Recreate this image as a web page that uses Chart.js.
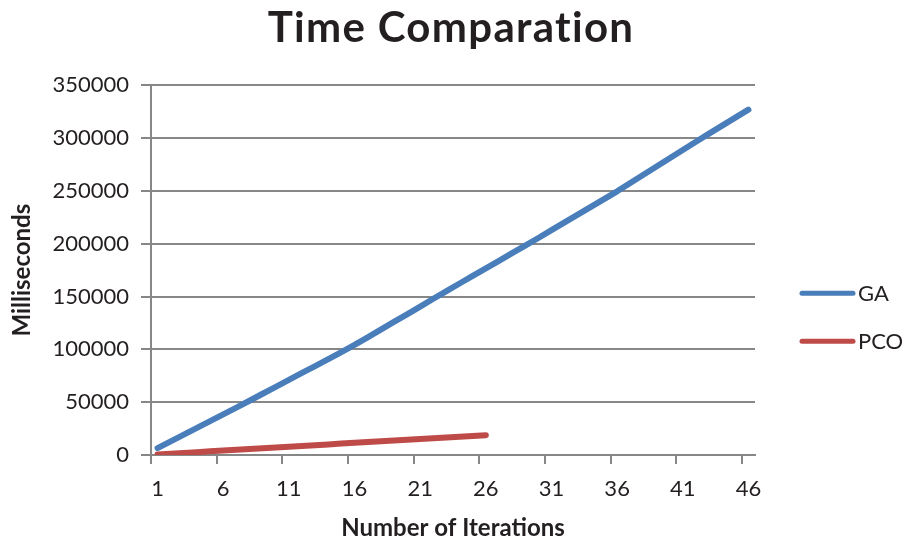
<!DOCTYPE html>
<html>
<head>
<meta charset="utf-8">
<script src="https://cdn.jsdelivr.net/npm/chart.js@4"></script>
<style>
  html, body { margin: 0; padding: 0; background: #ffffff; }
  #wrap { width: 908px; height: 546px; position: relative; }
</style>
</head>
<body>
<div id="wrap"><canvas id="chart"></canvas></div>
<script>
// Iteration numbers on the x axis
const iterations = [
  '1','2','3','4','5','6','7','8','9','10',
  '11','12','13','14','15','16','17','18','19','20',
  '21','22','23','24','25','26','27','28','29','30',
  '31','32','33','34','35','36','37','38','39','40',
  '41','42','43','44','45','46'
];

// Run time of the genetic algorithm, ms
const gaTimes = [
  6500, 12900, 19300, 25700, 32100, 38500, 44900, 51400, 58000, 64500,
  71100, 77700, 84200, 90800, 97400, 104200, 111400, 118700, 126000, 133200,
  140500, 148000, 155200, 162400, 169600, 176700, 183900, 191100, 198200, 205500,
  212900, 220300, 227600, 235000, 242300, 249700, 257600, 265400, 273200, 281000,
  288800, 296600, 304300, 311900, 319500, 327000
];

// Run time of PCO, ms (measured for the first 26 iterations)
const pcoTimes = [
  500, 1250, 1980, 2700, 3450, 4180, 4900, 5650, 6380, 7100,
  7850, 8580, 9300, 10050, 10780, 11500, 12250, 12980, 13700, 14450,
  15180, 15900, 16650, 17380, 18100, 18800
];

// Y axis ticks
const yTicks = [0, 50000, 100000, 150000, 200000, 250000, 300000, 350000];

const FONT = 'Lato, "Open Sans", "DejaVu Sans", sans-serif';
const TEXT = '#231f20';
const AXIS = '#878787';
const GA_COLOR = '#4a7ebb';
const PCO_COLOR = '#be4b48';

// Slightly looser tracking for the chart title (also keeps "ti" from joining)
const titleTracking = {
  id: 'titleTracking',
  afterInit(chart) {
    const block = chart.titleBlock;
    if (!block) return;
    const draw = block.draw.bind(block);
    block.draw = function () {
      const ctx = chart.ctx;
      ctx.save();
      ctx.letterSpacing = '1.3px';
      draw();
      ctx.restore();
    };
  }
};

// Legend drawn to the right of the plot: a short line sample plus the series name
const sideLegend = {
  id: 'sideLegend',
  afterDraw(chart) {
    const { ctx, chartArea } = chart;
    const midY = (chartArea.top + chartArea.bottom) / 2;
    ctx.save();
    chart.data.datasets.forEach((ds, i) => {
      const y = midY + 23 + i * 48;
      const x0 = chartArea.right + 47;
      const x1 = chartArea.right + 98;
      ctx.beginPath();
      ctx.lineCap = 'round';
      ctx.lineWidth = 5;
      ctx.strokeStyle = ds.borderColor;
      ctx.moveTo(x0, y);
      ctx.lineTo(x1, y);
      ctx.stroke();
      ctx.fillStyle = TEXT;
      ctx.font = '22px ' + FONT;
      ctx.textAlign = 'left';
      ctx.textBaseline = 'middle';
      ctx.fillText(ds.label, chartArea.right + 103, y + 1);
    });
    ctx.restore();
  }
};

new Chart(document.getElementById('chart'), {
  type: 'line',
  data: {
    labels: iterations,
    datasets: [
      {
        label: 'GA',
        data: gaTimes,
        borderColor: GA_COLOR,
        backgroundColor: GA_COLOR,
        borderWidth: 6,
        borderCapStyle: 'round',
        borderJoinStyle: 'round',
        pointRadius: 0,
        tension: 0,
        fill: false
      },
      {
        label: 'PCO',
        data: pcoTimes,
        borderColor: PCO_COLOR,
        backgroundColor: PCO_COLOR,
        borderWidth: 6,
        borderCapStyle: 'round',
        borderJoinStyle: 'round',
        pointRadius: 0,
        tension: 0,
        fill: false
      }
    ]
  },
  options: {
    responsive: true,
    maintainAspectRatio: false,
    animation: false,
    layout: { padding: { top: 0, right: 6, bottom: 0, left: 0 } },
    plugins: {
      legend: { display: false },
      tooltip: { enabled: false },
      title: {
        display: true,
        text: 'Time Comparation',
        color: TEXT,
        font: { family: FONT, size: 42, weight: 'bold' },
        padding: { top: 3, bottom: 32 }
      }
    },
    scales: {
      x: {
        type: 'category',
        offset: true,
        grid: {
          offset: true,
          drawOnChartArea: false,
          drawTicks: true,
          tickLength: 9,
          lineWidth: 2,
          color: (c) => (c.index % 5 === 0 ? AXIS : 'rgba(0,0,0,0)')
        },
        border: { color: AXIS, width: 2 },
        ticks: {
          autoSkip: false,
          maxRotation: 0,
          minRotation: 0,
          padding: 12,
          color: TEXT,
          font: { family: FONT, size: 22 },
          callback: (v, i) => (i % 5 === 0 ? iterations[i] : '')
        },
        title: {
          display: true,
          text: 'Number of Iterations',
          color: TEXT,
          font: { family: FONT, size: 24, weight: 'bold' },
          padding: { top: 0, bottom: 3 }
        },
        afterFit(scale) { scale.height = 91; }
      },
      y: {
        min: 0,
        max: 350000,
        afterBuildTicks(scale) { scale.ticks = yTicks.map(v => ({ value: v })); },
        grid: {
          color: AXIS,
          lineWidth: 2,
          drawTicks: true,
          tickLength: 10
        },
        border: { color: AXIS, width: 2 },
        ticks: {
          padding: 12,
          color: TEXT,
          font: { family: FONT, size: 22 },
          callback: (v) => String(v)
        },
        title: {
          display: true,
          text: 'Milliseconds',
          color: TEXT,
          font: { family: FONT, size: 24, weight: 'bold' },
          padding: { top: 8, bottom: 0 }
        },
        afterFit(scale) { scale.width = 151; }
      },
      side: {
        position: 'right',
        display: true,
        grid: { display: false, drawTicks: false },
        border: { display: false },
        ticks: { display: false },
        afterFit(scale) { scale.width = 147; }
      }
    }
  },
  plugins: [titleTracking, sideLegend]
});
</script>
</body>
</html>
